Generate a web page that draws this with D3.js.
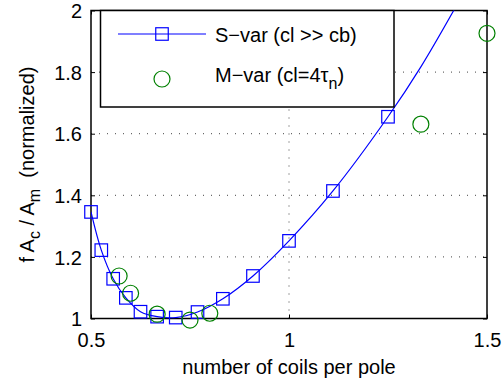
<!DOCTYPE html>
<html><head><meta charset="utf-8">
<script src="https://cdn.jsdelivr.net/npm/d3@7"></script>
<style>
body{margin:0;background:#fff;}
text{font-family:"Liberation Sans",Arial,Helvetica,sans-serif;fill:#000;}
</style></head>
<body><svg id="c" width="502" height="384"></svg>
<script>
// S-var (cl >> cb) markers
const sVarX = [0.5, 0.526, 0.556, 0.588, 0.625, 0.667, 0.714, 0.769, 0.833, 0.909, 1.0, 1.111, 1.25];
const sVarY = [1.346, 1.222, 1.129, 1.067, 1.022, 1.006, 1.003, 1.021, 1.064, 1.138, 1.252, 1.414, 1.655];
// S-var curve continuation beyond last marker
const sCurveExtX = [1.333, 1.429];
const sCurveExtY = [1.817, 2.03];
// M-var (cl=4tau_n)
const mVarX = [0.571, 0.6, 0.667, 0.75, 0.8, 1.333, 1.5];
const mVarY = [1.138, 1.082, 1.014, 0.995, 1.017, 1.631, 1.926];
// ticks
const xTicks = [0.5, 1, 1.5];
const xTickLabels = ["0.5", "1", "1.5"];
const yTicks = [1, 1.2, 1.4, 1.6, 1.8, 2];
const yTickLabels = ["1", "1.2", "1.4", "1.6", "1.8", "2"];

const svg = d3.select("#c");
const L = 91, R = 487, T = 10.5, B = 318.5;
const x = d3.scaleLinear().domain([0.5, 1.5]).range([L, R]);
const y = d3.scaleLinear().domain([1, 2]).range([B, T]);
const FS = 20;

svg.append("defs").append("clipPath").attr("id", "clip")
  .append("rect").attr("x", L).attr("y", T).attr("width", R - L).attr("height", B - T);

// grid
const gridX = xTicks.filter(v => v > 0.5 && v < 1.5);
const gridY = yTicks.filter(v => v > 1 && v < 2);
svg.append("g").selectAll("line").data(gridX).join("line")
  .attr("x1", d => x(d)).attr("x2", d => x(d)).attr("y1", B).attr("y2", T)
  .attr("stroke", "#444").attr("stroke-width", 1).attr("stroke-dasharray", "1,7");
svg.append("g").selectAll("line").data(gridY).join("line")
  .attr("y1", d => y(d)).attr("y2", d => y(d)).attr("x1", L).attr("x2", R)
  .attr("stroke", "#444").attr("stroke-width", 1).attr("stroke-dasharray", "1,7");

// axes with inward ticks
const tl = 4;
const axB = d3.axisBottom(x).tickValues(xTicks).tickSize(-tl).tickPadding(tl + 10).tickFormat((d, i) => xTickLabels[i]);
const axT = d3.axisTop(x).tickValues(xTicks).tickSize(-tl).tickFormat("");
const axL = d3.axisLeft(y).tickValues(yTicks).tickSize(-tl).tickPadding(tl + 5).tickFormat((d, i) => yTickLabels[i]);
const axR = d3.axisRight(y).tickValues(yTicks).tickSize(-tl).tickFormat("");
function style(g) {
  g.select(".domain").remove();
  g.selectAll("line").attr("stroke", "#000").attr("stroke-width", 1);
  g.selectAll("text").attr("font-size", FS).attr("font-family", "Liberation Sans, Arial, sans-serif").attr("fill", "#000");
}
svg.append("g").attr("transform", `translate(0,${B})`).call(axB).call(style);
svg.append("g").attr("transform", `translate(0,${T})`).call(axT).call(style);
svg.append("g").attr("transform", `translate(${L},0)`).call(axL).call(style)
  .selectAll("text").attr("dy", "0.36em");
svg.append("g").attr("transform", `translate(${R},0)`).call(axR).call(style);

// frame
svg.append("rect").attr("x", L).attr("y", T).attr("width", R - L).attr("height", B - T)
  .attr("fill", "none").attr("stroke", "#000").attr("stroke-width", 1.5);

// S-var line
const lineData = sVarX.map((v, i) => [v, sVarY[i]]).concat(sCurveExtX.map((v, i) => [v, sCurveExtY[i]]));
svg.append("path").datum(lineData).attr("clip-path", "url(#clip)")
  .attr("d", d3.line().x(d => x(d[0])).y(d => y(d[1])).curve(d3.curveCatmullRom.alpha(0.5)))
  .attr("fill", "none").attr("stroke", "#0000ff").attr("stroke-width", 1.2);

// S-var markers
const sq = 12.5;
svg.append("g").selectAll("rect").data(sVarX.map((v, i) => [v, sVarY[i]])).join("rect")
  .attr("x", d => x(d[0]) - sq / 2).attr("y", d => y(d[1]) - sq / 2)
  .attr("width", sq).attr("height", sq)
  .attr("fill", "none").attr("stroke", "#0000ff").attr("stroke-width", 1.2);

// M-var markers
svg.append("g").selectAll("circle").data(mVarX.map((v, i) => [v, mVarY[i]])).join("circle")
  .attr("cx", d => x(d[0])).attr("cy", d => y(d[1])).attr("r", 8)
  .attr("fill", "none").attr("stroke", "#008000").attr("stroke-width", 1.2);

// legend
const lg = svg.append("g");
lg.append("rect").attr("x", 100.5).attr("y", 10.5).attr("width", 293.5).attr("height", 96.5)
  .attr("fill", "#fff").attr("stroke", "#000").attr("stroke-width", 1.5);
lg.append("line").attr("x1", 118).attr("x2", 206).attr("y1", 34).attr("y2", 34)
  .attr("stroke", "#0000ff").attr("stroke-width", 1.2);
lg.append("rect").attr("x", 162 - sq / 2).attr("y", 34 - sq / 2).attr("width", sq).attr("height", sq)
  .attr("fill", "none").attr("stroke", "#0000ff").attr("stroke-width", 1.2);
lg.append("circle").attr("cx", 162).attr("cy", 79).attr("r", 8)
  .attr("fill", "none").attr("stroke", "#008000").attr("stroke-width", 1.2);
lg.append("text").attr("x", 215).attr("y", 41.5).attr("font-size", FS).text("S\u2212var (cl >> cb)");
const t2 = lg.append("text").attr("x", 215).attr("y", 82).attr("font-size", FS);
t2.append("tspan").text("M\u2212var (cl=4\u03C4");
t2.append("tspan").attr("dy", 7).attr("font-size", 16).text("n");
t2.append("tspan").attr("dy", -7).text(")");

// x label
svg.append("text").attr("x", (L + R) / 2).attr("y", 374).attr("text-anchor", "middle")
  .attr("font-size", FS).text("number of coils per pole");

// y label
const yl = svg.append("text").attr("transform", `translate(34,${(T + B) / 2}) rotate(-90)`)
  .attr("text-anchor", "middle").attr("font-size", FS);
yl.append("tspan").text("f A");
yl.append("tspan").attr("dy", 6).attr("font-size", 16).text("c");
yl.append("tspan").attr("dy", -6).text(" / A");
yl.append("tspan").attr("dy", 6).attr("font-size", 16).text("m");
yl.append("tspan").attr("dy", -6).text("\u00A0\u00A0(normalized)");
</script></body></html>
